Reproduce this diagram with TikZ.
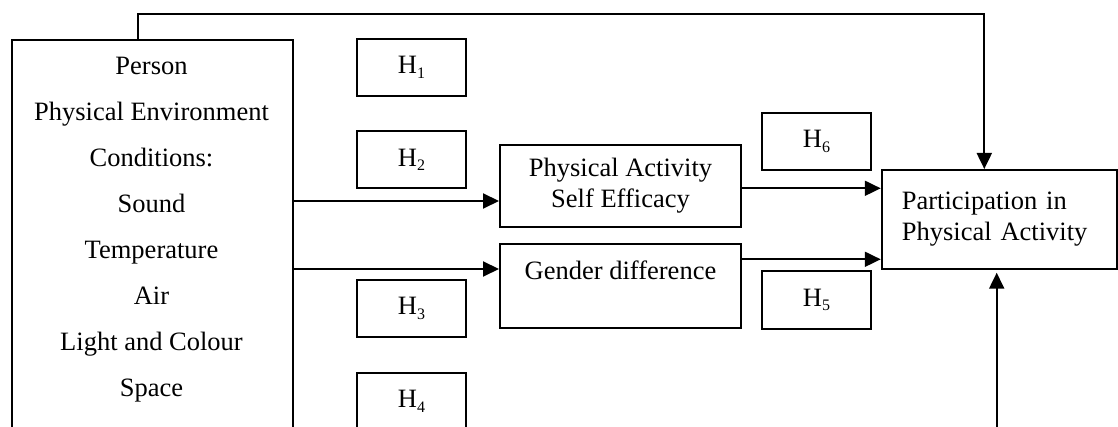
\documentclass[tikz,border=0pt]{standalone}
\usepackage{fontspec}
\setmainfont{Liberation Serif}
\usetikzlibrary{arrows.meta}
\newcommand\hsub[1]{H\raisebox{-4.5pt}{\fontsize{16}{16}\selectfont #1}}
\tikzset{
  box/.style={draw, line width=2pt, inner sep=0pt},
  arr/.style={line width=2pt, -{Triangle[length=16pt,width=15pt]}},
  hbox/.style={box, minimum width=109pt, minimum height=57pt},
  txt/.style={font=\fontsize{26.5}{31}\selectfont},
}
\begin{document}
\begin{tikzpicture}[x=1pt,y=-1pt,txt]
\useasboundingbox (0,0) rectangle (1118,427);
\clip (0,0) rectangle (1118,427);
% environment box (continues below the picture)
\node[box, anchor=north west, minimum width=280.4pt, minimum height=440pt] (env) at (11.3,39) {};
\node[anchor=north, align=center, inner sep=0pt, font=\fontsize{26.5}{46}\selectfont] (envtxt) at (151.5,56.5)
  {Person\\Physical Environment\\Conditions:\\Sound\\Temperature\\Air\\Light and Colour\\Space};
% hypothesis boxes
\node[hbox] (h1) at (411.5,67.5) {\hsub{1}};
\node[hbox] (h2) at (411.5,160) {\hsub{2}};
\node[hbox] (h3) at (411.5,308.5) {\hsub{3}};
\node[hbox] (h4) at (411.5,401.5) {\hsub{4}};
\node[hbox] (h6) at (816.5,141.5) {\hsub{6}};
\node[hbox] (h5) at (816.5,300) {\hsub{5}};
% mediators
\node[box, minimum width=241pt, minimum height=82pt, align=center] (pa) at (620.5,186) {Physical Activity\\Self Efficacy};
\node[box, minimum width=241pt, minimum height=84pt, align=center] (gd) at (620.5,286) {Gender difference\\~};
% outcome
\node[box, minimum width=235.3pt, minimum height=99pt, text width=195pt, inner xsep=20pt, align=left] (part) at (999.4,219.5) {Participation in\\Physical Activity};
% connectors
\coordinate (a1) at ([yshift=-15pt]pa.west);
\coordinate (a2) at ([yshift=17pt]gd.west);
\draw[arr] (env.east |- a1) -- (a1);
\draw[arr] (env.east |- a2) -- (a2);
\coordinate (b1) at ([yshift=-2.3pt]pa.east);
\coordinate (b2) at ([yshift=26.7pt]gd.east);
\draw[arr] (b1) -- (b1 -| part.west);
\draw[arr] (b2) -- (b2 -| part.west);
\coordinate (topy) at (0,14);
\coordinate (t1) at ([xshift=-14.1pt]env.north);
\coordinate (t2) at ([xshift=-15.1pt]part.north);
\draw[arr] (t1) -- (t1 |- topy) -| (t2);
\coordinate (bot) at (996.7,440);
\draw[arr] (bot) -- ([xshift=-2.7pt,yshift=-2.7pt]part.south);
\end{tikzpicture}
\end{document}
